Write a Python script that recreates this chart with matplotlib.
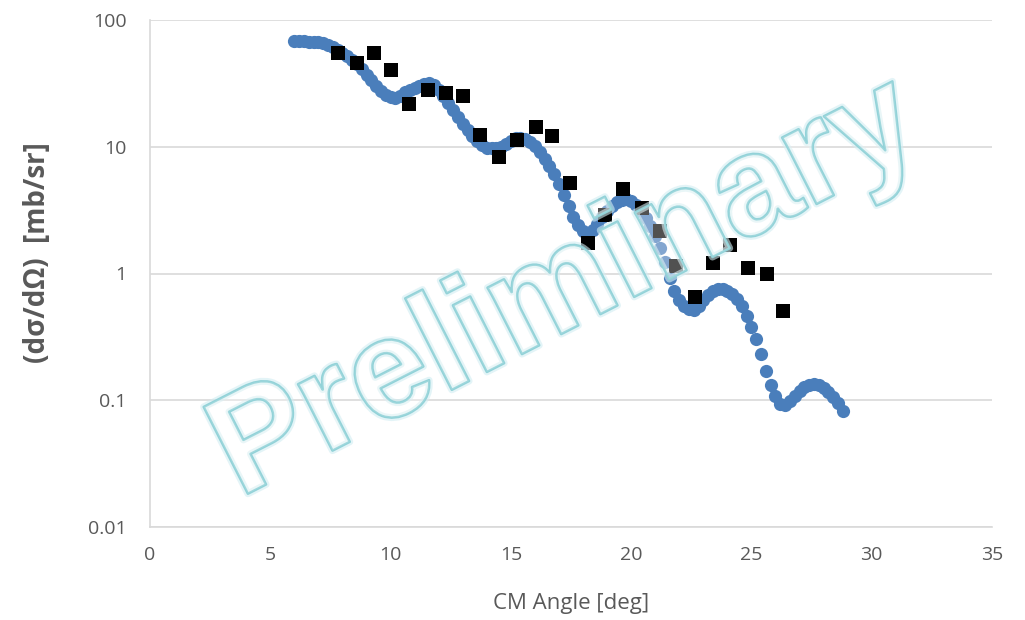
import matplotlib
matplotlib.use("Agg")
import matplotlib.pyplot as plt
import matplotlib.patheffects as pe
from matplotlib.ticker import FixedLocator, FixedFormatter, NullLocator

# calculated curve (blue)
calc_angle = [
    6.0, 6.2, 6.4, 6.6, 6.8, 7.0, 7.2, 7.4, 7.6, 7.8,
    8.0, 8.2, 8.4, 8.6, 8.8, 9.0, 9.2, 9.4, 9.6, 9.8,
    10.0, 10.2, 10.4, 10.6, 10.8, 11.0, 11.2, 11.4, 11.6, 11.8,
    12.0, 12.2, 12.4, 12.6, 12.8, 13.0, 13.2, 13.4, 13.6, 13.8,
    14.0, 14.2, 14.4, 14.6, 14.8, 15.0, 15.2, 15.4, 15.6, 15.8,
    16.0, 16.2, 16.4, 16.6, 16.8, 17.0, 17.2, 17.4, 17.6, 17.8,
    18.0, 18.2, 18.4, 18.6, 18.8, 19.0, 19.2, 19.4, 19.6, 19.8,
    20.0, 20.2, 20.4, 20.6, 20.8, 21.0, 21.2, 21.4, 21.6, 21.8,
    22.0, 22.2, 22.4, 22.6, 22.8, 23.0, 23.2, 23.4, 23.6, 23.8,
    24.0, 24.2, 24.4, 24.6, 24.8, 25.0, 25.2, 25.4, 25.6, 25.8,
    26.0, 26.2, 26.4, 26.6, 26.8, 27.0, 27.2, 27.4, 27.6, 27.8,
    28.0, 28.2, 28.4, 28.6, 28.8,
]
calc_xsec = [
    68.3, 68.3, 67.7, 67.1, 67.1, 66.5, 65.3, 63.5, 61.2, 58.0,
    55.4, 52.0, 48.4, 45.0, 41.1, 36.8, 33.6, 30.2, 27.5, 25.6,
    24.5, 24.3, 25.1, 26.8, 28.0, 29.3, 30.4, 31.3, 31.6, 30.7,
    28.0, 25.1, 22.1, 19.5, 17.2, 15.1, 13.6, 12.2, 11.1, 10.3,
    9.86, 9.69, 9.77, 10.0, 10.6, 11.2, 11.7, 11.8, 11.5, 10.9,
    10.1, 9.09, 8.00, 7.05, 6.10, 5.08, 4.16, 3.41, 2.79, 2.41,
    2.16, 2.09, 2.20, 2.46, 2.79, 3.11, 3.41, 3.66, 3.80, 3.84,
    3.73, 3.47, 3.11, 2.74, 2.37, 1.98, 1.59, 1.23, 0.922, 0.728,
    0.618, 0.554, 0.520, 0.515, 0.554, 0.618, 0.677, 0.728, 0.748, 0.748,
    0.728, 0.689, 0.629, 0.554, 0.462, 0.378, 0.304, 0.232, 0.170, 0.132,
    0.108, 0.0934, 0.0917, 0.0986, 0.108, 0.118, 0.127, 0.133, 0.134, 0.132,
    0.125, 0.116, 0.106, 0.0951, 0.0823,
]

# measured points (black squares)
data_angle = [7.81, 8.60, 9.31, 10.02, 10.77, 11.56, 12.30, 13.01, 13.72,
              14.51, 15.26, 16.05, 16.71, 17.46, 18.21, 18.91, 19.66, 20.45,
              21.20, 21.86, 22.65, 23.40, 24.11, 24.86, 25.65, 26.31]
data_xsec = [55.0, 45.8, 55.0, 40.3, 21.7, 28.0, 26.5, 25.1, 12.4,
             8.3, 11.3, 14.3, 12.2, 5.18, 1.74, 2.90, 4.64, 3.29,
             2.16, 1.15, 0.653, 1.21, 1.68, 1.10, 0.99, 0.506]

y_ticks = [0.01, 0.1, 1, 10, 100]
y_tick_labels = ["0.01", "0.1", "1", "10", "100"]
x_ticks = [0, 5, 10, 15, 20, 25, 30, 35]

plt.rcParams['font.family'] = ['Open Sans', 'DejaVu Sans']
grey = '#595959'

fig = plt.figure(figsize=(10.25, 6.2), dpi=100)
ax = fig.add_axes([150 / 1025, 93 / 620, 842 / 1025, 507 / 620])

ax.plot(calc_angle, calc_xsec, linestyle='none', marker='o', markersize=9.5,
        color='#4a7ebb', markeredgewidth=0, zorder=3)
ax.plot(data_angle, data_xsec, linestyle='none', marker='s', markersize=9.5,
        color='black', markeredgewidth=0, zorder=4)

ax.set_yscale('log')
ax.set_ylim(0.01, 100)
ax.set_xlim(0, 35)
ax.yaxis.set_major_locator(FixedLocator(y_ticks))
ax.yaxis.set_major_formatter(FixedFormatter(y_tick_labels))
ax.yaxis.set_minor_locator(NullLocator())
ax.set_xticks(x_ticks)
ax.set_xticklabels([str(t) for t in x_ticks])

ax.grid(axis='y', color='#d9d9d9', linewidth=1.2)
ax.set_axisbelow(True)
for side in ['top', 'right']:
    ax.spines[side].set_visible(False)
for side in ['left', 'bottom']:
    ax.spines[side].set_color('#d9d9d9')
    ax.spines[side].set_linewidth(1.2)
ax.tick_params(axis='x', length=0, labelsize=14, colors=grey, pad=14)
ax.tick_params(axis='y', length=0, labelsize=14, colors=grey, pad=17)

fig.text(571 / 1025, 1 - 603 / 620, 'CM Angle [deg]', fontsize=16,
         color=grey, ha='center', va='center')
fig.text(38 / 1025, 1 - 253 / 620, '(dσ/dΩ)  [mb/sr]', fontsize=20,
         color=grey, fontweight='bold', rotation=90, ha='center',
         va='center')

# watermark: faint white fill, cyan outline with a soft glow
fig.text(583 / 1025, 1 - 323 / 620, 'Preliminary', fontsize=102,
         family='Liberation Sans', fontweight='bold',
         color=(1, 1, 1, 0.12), rotation=27, rotation_mode='anchor',
         ha='center', va='baseline', zorder=5,
         path_effects=[pe.Stroke(linewidth=5, foreground=(0.82, 0.93, 0.95, 0.6)),
                       pe.Stroke(linewidth=1.8, foreground='#92d2d8'),
                       pe.Normal()])

fig.savefig('out.png', dpi=100)
